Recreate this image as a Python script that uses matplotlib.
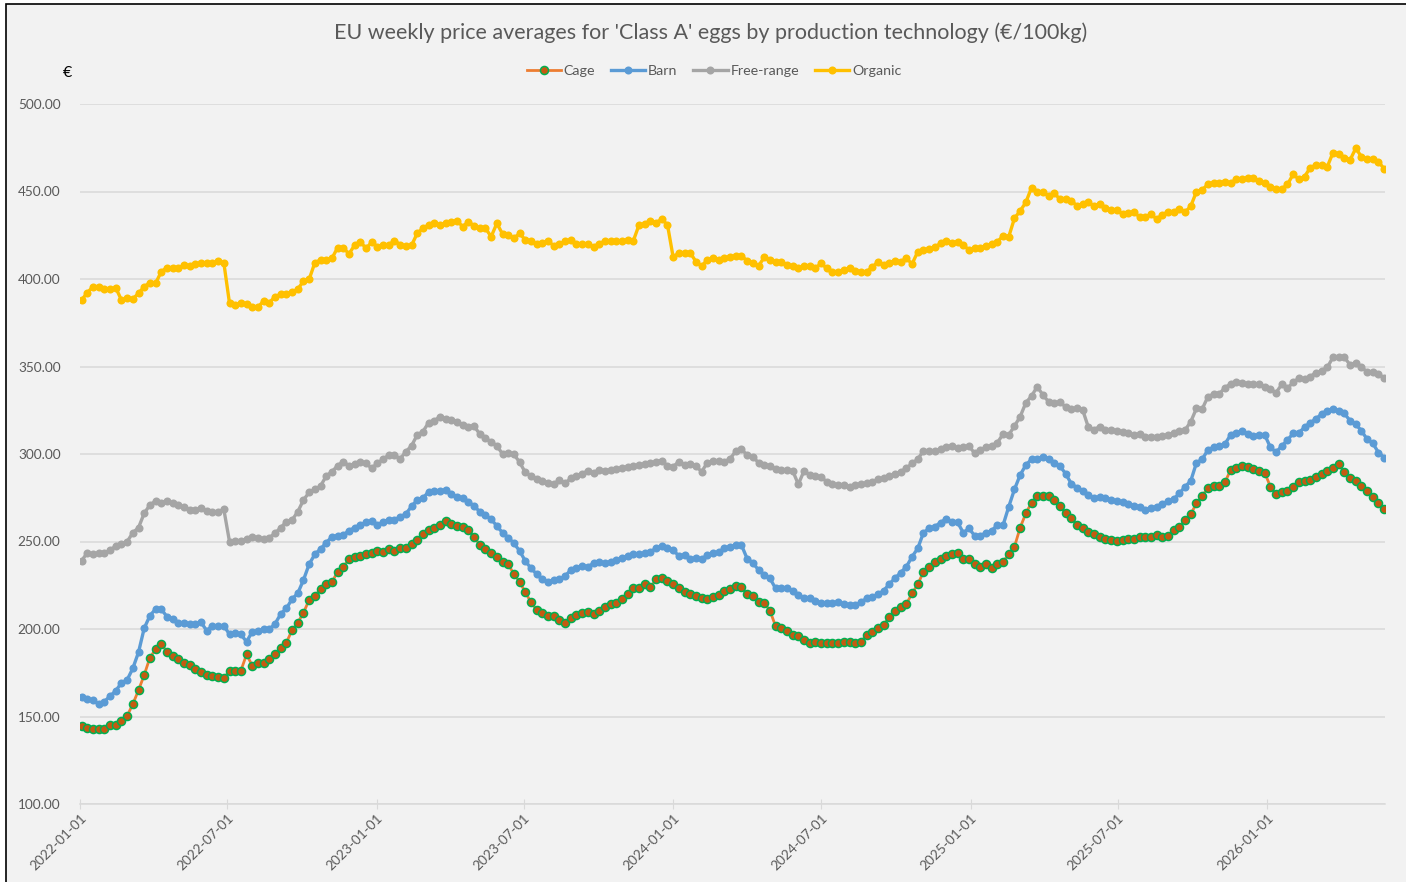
import matplotlib
matplotlib.use("Agg")
import matplotlib.pyplot as plt
import matplotlib.dates as mdates
import pandas as pd
from matplotlib.patches import Rectangle

plt.rcParams["font.family"] = ["Lato", "DejaVu Sans"]

# weekly series, starting first week of 2022
start_week = "2022-01-03"

cage = [
    144.6, 143.6, 142.9, 142.9, 142.9, 145.1, 145.1, 147.6, 150.3, 157.1,
    165.0, 173.7, 183.6, 188.4, 191.4, 187.0, 184.6, 182.7, 180.4, 179.4,
    177.0, 175.6, 173.5, 173.1, 172.8, 171.8, 176.2, 176.2, 176.2, 185.5,
    179.0, 180.4, 180.8, 182.7, 185.5, 189.3, 192.2, 199.4, 203.6, 209.3,
    216.6, 218.9, 222.9, 225.5, 226.7, 232.7, 235.6, 239.8, 241.3, 241.9,
    242.7, 243.2, 244.7, 244.0, 245.5, 244.7, 246.5, 246.5, 248.6, 250.9,
    254.1, 256.6, 257.5, 259.4, 261.7, 260.0, 259.0, 258.1, 256.6, 252.7,
    248.0, 245.5, 243.2, 241.3, 238.5, 237.0, 231.3, 227.0, 221.0, 215.3,
    210.9, 209.0, 207.4, 207.4, 205.1, 203.6, 206.1, 208.0, 209.0, 209.5,
    208.6, 210.5, 212.8, 214.3, 215.0, 217.1, 219.8, 223.2, 223.2, 225.7,
    223.8, 228.4, 229.0, 227.4, 225.5, 223.2, 221.0, 220.0, 218.9, 217.9,
    217.0, 218.5, 219.4, 221.7, 222.7, 224.8, 223.8, 219.8, 218.9, 215.6,
    215.0, 210.5, 201.7, 200.8, 198.9, 196.6, 196.0, 193.7, 192.2, 192.8,
    192.2, 192.2, 192.2, 192.2, 192.8, 192.8, 192.2, 192.8, 196.4, 198.5,
    200.8, 202.3, 207.1, 210.5, 212.8, 214.3, 220.4, 225.5, 232.7, 235.6,
    238.5, 240.0, 241.9, 242.9, 243.6, 239.8, 239.8, 237.1, 235.6, 237.1,
    234.7, 237.1, 238.5, 242.7, 247.0, 257.9, 266.1, 272.2, 276.0, 276.0,
    276.0, 273.7, 270.3, 266.1, 263.2, 259.4, 257.5, 255.6, 254.3, 252.4,
    251.4, 250.9, 250.5, 250.9, 251.4, 251.4, 252.4, 252.4, 252.4, 253.7,
    252.8, 253.1, 256.6, 258.5, 262.3, 265.7, 271.8, 276.2, 280.4, 281.7,
    281.7, 283.8, 290.9, 292.2, 293.3, 292.8, 291.3, 290.5, 289.3, 281.3,
    277.0, 278.1, 279.0, 281.3, 283.8, 284.6, 285.1, 287.0, 288.6, 290.3,
    291.8, 294.1, 289.5, 286.5, 284.6, 281.7, 278.9, 275.6, 271.8, 268.6,
]

barn = [
    161.3, 159.8, 159.4, 157.0, 158.5, 161.7, 164.6, 169.3, 170.9, 177.5,
    186.7, 200.4, 207.6, 211.4, 211.4, 207.0, 205.7, 203.6, 203.6, 202.9,
    202.9, 203.8, 199.0, 201.9, 201.9, 201.9, 196.9, 197.9, 196.9, 192.7,
    198.5, 198.9, 199.8, 199.8, 202.9, 208.6, 211.8, 217.1, 220.4, 228.0,
    237.0, 242.7, 245.7, 249.3, 252.7, 253.3, 253.7, 256.2, 257.9, 259.4,
    261.0, 261.7, 259.4, 261.3, 262.3, 262.3, 264.2, 265.7, 270.1, 273.7,
    274.7, 278.5, 278.9, 278.9, 279.4, 277.0, 275.6, 274.7, 272.7, 270.3,
    267.0, 265.1, 262.7, 258.9, 255.0, 252.2, 249.0, 244.6, 238.9, 234.7,
    231.4, 228.4, 226.7, 228.0, 228.4, 230.3, 233.7, 234.7, 236.2, 235.6,
    237.5, 238.5, 237.5, 238.5, 239.4, 240.4, 241.7, 242.7, 242.7, 243.2,
    244.2, 246.1, 247.4, 246.5, 245.1, 241.7, 242.3, 239.8, 240.4, 239.8,
    242.3, 243.2, 243.8, 246.1, 247.0, 247.8, 248.0, 240.2, 237.9, 233.7,
    230.9, 229.0, 223.2, 223.2, 223.2, 221.6, 219.4, 217.5, 217.5, 216.2,
    214.7, 215.0, 214.7, 215.6, 214.1, 213.7, 213.7, 215.3, 217.5, 218.1,
    219.8, 221.9, 225.7, 229.0, 232.2, 235.6, 241.3, 246.1, 255.0, 257.5,
    258.5, 260.8, 262.9, 261.0, 261.0, 255.0, 257.5, 253.3, 253.3, 255.0,
    256.2, 259.4, 259.4, 269.9, 279.8, 288.0, 293.7, 297.0, 297.0, 298.5,
    297.0, 295.0, 293.1, 288.7, 283.0, 280.8, 279.0, 276.6, 274.7, 275.2,
    274.7, 273.9, 272.9, 272.4, 271.4, 270.4, 269.9, 268.0, 268.9, 269.9,
    271.4, 272.9, 274.3, 277.5, 281.3, 284.7, 295.0, 297.0, 302.3, 303.9,
    304.6, 305.7, 310.9, 311.8, 313.3, 311.4, 310.5, 310.9, 310.9, 303.8,
    301.0, 304.6, 308.0, 311.8, 312.2, 315.2, 317.9, 320.0, 322.9, 324.7,
    325.7, 324.7, 323.2, 319.0, 317.0, 313.3, 308.4, 306.1, 300.8, 298.0,
]

free_range = [
    239.0, 243.6, 242.7, 243.2, 243.2, 245.1, 247.4, 248.6, 249.9, 255.0,
    257.9, 266.1, 270.9, 273.1, 272.2, 273.3, 271.8, 270.9, 269.5, 268.0,
    268.0, 268.9, 267.4, 267.0, 267.0, 268.4, 249.9, 250.5, 250.5, 251.4,
    252.4, 252.2, 251.2, 252.2, 254.7, 257.9, 261.3, 262.3, 267.0, 273.7,
    278.1, 279.8, 281.7, 287.4, 289.9, 293.3, 295.6, 293.3, 294.3, 295.6,
    294.7, 291.8, 294.7, 297.0, 299.4, 299.4, 297.3, 301.3, 304.7, 310.9,
    312.8, 317.9, 319.0, 321.3, 319.8, 319.4, 318.5, 316.6, 315.6, 316.0,
    311.3, 309.0, 307.0, 304.7, 300.0, 300.8, 299.8, 295.3, 289.5, 287.4,
    285.7, 284.6, 283.6, 282.7, 285.1, 283.2, 286.1, 287.4, 288.6, 290.5,
    289.3, 290.9, 290.5, 290.9, 291.4, 291.8, 292.8, 293.1, 293.7, 294.3,
    294.7, 295.6, 296.2, 293.1, 292.8, 295.6, 293.7, 294.3, 293.1, 289.9,
    295.0, 296.0, 296.0, 295.6, 297.3, 301.6, 302.7, 299.4, 298.5, 295.0,
    293.7, 293.1, 291.3, 290.9, 290.9, 290.5, 282.7, 290.3, 288.0, 287.4,
    286.7, 284.2, 282.7, 282.3, 282.3, 281.3, 282.3, 282.9, 283.2, 284.2,
    285.5, 286.1, 287.4, 288.6, 289.9, 291.8, 294.7, 297.0, 301.9, 301.9,
    301.9, 302.7, 303.9, 304.6, 303.2, 303.9, 304.6, 300.4, 302.3, 303.9,
    304.6, 306.5, 311.4, 310.9, 316.0, 321.3, 329.3, 333.1, 338.5, 333.7,
    329.9, 329.3, 329.6, 326.9, 325.5, 326.1, 325.1, 315.2, 314.0, 315.6,
    314.0, 313.7, 313.3, 312.8, 311.8, 310.9, 311.3, 310.0, 309.9, 310.0,
    310.3, 310.9, 311.8, 313.1, 313.7, 318.5, 326.1, 325.7, 332.7, 334.3,
    334.3, 337.9, 340.0, 341.0, 340.8, 339.8, 339.8, 339.8, 338.5, 337.0,
    335.1, 339.8, 337.5, 341.0, 343.3, 342.9, 344.2, 346.5, 347.6, 349.5,
    355.3, 355.3, 355.3, 350.9, 352.2, 349.5, 347.0, 347.0, 345.5, 343.6,
]

organic = [
    388.0, 392.2, 395.6, 395.6, 394.1, 394.1, 395.0, 388.0, 389.0, 388.6,
    391.8, 395.6, 397.9, 397.5, 404.2, 406.5, 406.5, 406.1, 408.0, 407.4,
    408.4, 409.3, 409.3, 409.0, 410.3, 409.3, 386.1, 385.1, 386.1, 385.5,
    383.8, 383.8, 387.6, 386.5, 389.9, 391.3, 391.3, 392.7, 394.1, 398.9,
    399.8, 409.3, 410.9, 410.9, 411.8, 417.9, 417.9, 414.3, 419.4, 421.3,
    417.5, 421.0, 418.5, 419.4, 419.4, 421.9, 419.7, 418.7, 419.2, 426.1,
    429.0, 430.9, 431.8, 430.9, 431.8, 432.8, 433.3, 429.9, 432.8, 430.3,
    429.0, 429.0, 424.2, 431.8, 425.7, 425.1, 423.2, 426.1, 422.3, 421.7,
    419.8, 420.8, 421.7, 419.0, 419.8, 421.7, 422.3, 419.8, 420.0, 420.0,
    418.5, 420.0, 421.9, 421.9, 421.9, 421.9, 422.3, 421.9, 430.9, 431.4,
    433.3, 432.2, 434.2, 430.9, 412.4, 415.0, 415.0, 415.0, 409.9, 407.4,
    410.9, 411.8, 410.9, 411.8, 412.8, 413.1, 413.1, 410.5, 409.3, 407.4,
    412.4, 410.9, 409.9, 409.9, 408.0, 407.6, 406.1, 407.4, 407.4, 406.1,
    409.0, 406.1, 404.2, 404.2, 405.1, 406.1, 404.8, 404.2, 404.2, 406.7,
    409.9, 408.0, 409.3, 410.5, 409.9, 411.8, 408.6, 415.6, 416.6, 417.1,
    418.1, 420.4, 421.9, 420.8, 421.3, 419.4, 416.6, 417.5, 417.9, 418.9,
    420.0, 421.3, 424.6, 424.2, 434.7, 438.9, 443.8, 452.2, 449.9, 449.9,
    447.4, 449.0, 445.6, 445.6, 444.8, 441.7, 442.9, 443.8, 441.7, 442.9,
    440.4, 439.4, 439.4, 437.1, 437.5, 438.5, 435.3, 435.3, 437.1, 434.2,
    436.6, 438.5, 438.5, 440.0, 438.1, 441.7, 449.9, 450.9, 454.1, 455.1,
    455.1, 455.6, 454.7, 457.0, 457.0, 457.9, 457.5, 456.0, 454.7, 452.4,
    451.4, 451.4, 454.1, 459.8, 457.0, 458.5, 463.6, 465.1, 465.1, 464.2,
    472.2, 471.4, 469.0, 468.0, 474.7, 469.9, 468.4, 468.4, 467.0, 462.9,
]

tick_dates = ["2022-01-01", "2022-07-01", "2023-01-01", "2023-07-01", "2024-01-01",
              "2024-07-01", "2025-01-01", "2025-07-01", "2026-01-01"]
y_ticks = [100, 150, 200, 250, 300, 350, 400, 450, 500]

weeks = pd.date_range(start_week, periods=len(cage), freq="7D")

bg = "#F2F2F2"
text_grey = "#595959"
grid_grey = "#D9D9D9"

fig = plt.figure(figsize=(14.06, 8.82), dpi=100)
fig.patch.set_facecolor("white")
fig.patches.append(Rectangle((6 / 1406, -0.01), 1.02, 1 - 4 / 882 + 0.01,
                             transform=fig.transFigure, facecolor=bg,
                             edgecolor="black", linewidth=1.2, zorder=-1))

ax = fig.add_axes([80 / 1406, 1 - 804 / 882, (1385 - 80) / 1406, 700 / 882])
ax.set_facecolor(bg)

ms = 5.8
ax.plot(weeks, cage, color="#ED7D31", linewidth=2.0, marker="o", markersize=ms,
        markerfacecolor="#C55A11", markeredgecolor="#00B050", markeredgewidth=1.1,
        label="Cage", zorder=5)
ax.plot(weeks, barn, color="#5B9BD5", linewidth=2.4, marker="o", markersize=ms,
        markeredgewidth=0, label="Barn", zorder=4)
ax.plot(weeks, free_range, color="#A5A5A5", linewidth=2.4, marker="o", markersize=ms,
        markeredgewidth=0, label="Free-range", zorder=3)
ax.plot(weeks, organic, color="#FFC000", linewidth=2.4, marker="o", markersize=ms,
        markeredgewidth=0, label="Organic", zorder=3)

ax.set_ylim(100, 500)
ax.set_xlim(pd.Timestamp("2022-01-01"), pd.Timestamp("2026-05-26"))
ax.set_yticks(y_ticks)
ax.set_yticklabels([f"{v:.2f}" for v in y_ticks], color=text_grey, fontsize=9.8)
ax.tick_params(axis="y", length=0, pad=14)
ax.grid(axis="y", color=grid_grey, linewidth=1.1)
ax.set_axisbelow(True)

ax.set_xticks(pd.to_datetime(tick_dates))
ax.xaxis.set_major_formatter(mdates.DateFormatter("%Y-%m-%d"))
ax.tick_params(axis="x", direction="inout", length=7, color=grid_grey,
               labelcolor=text_grey, labelsize=9.8, pad=2)
for lab in ax.get_xticklabels():
    lab.set_rotation(45)
    lab.set_ha("right")
    lab.set_rotation_mode("anchor")

for side in ["top", "right", "left"]:
    ax.spines[side].set_visible(False)
ax.spines["bottom"].set_color(grid_grey)
ax.spines["bottom"].set_linewidth(1.1)

fig.text(67 / 1406, 1 - 73 / 882, "€", ha="center", va="center", fontsize=11.5, color="black")
fig.text(711 / 1406, 1 - 33 / 882,
         "EU weekly price averages for 'Class A' eggs by production technology (€/100kg)",
         ha="center", va="center", fontsize=15.5, color=text_grey)

leg = fig.legend(loc="center", bbox_to_anchor=(714 / 1406, 1 - 71 / 882), ncol=4,
                 frameon=False, fontsize=10.3, handlelength=2.4, handletextpad=0.2,
                 columnspacing=1.1, labelcolor=text_grey)

fig.savefig("out.png", dpi=100, facecolor=fig.get_facecolor())
plt.close(fig)
